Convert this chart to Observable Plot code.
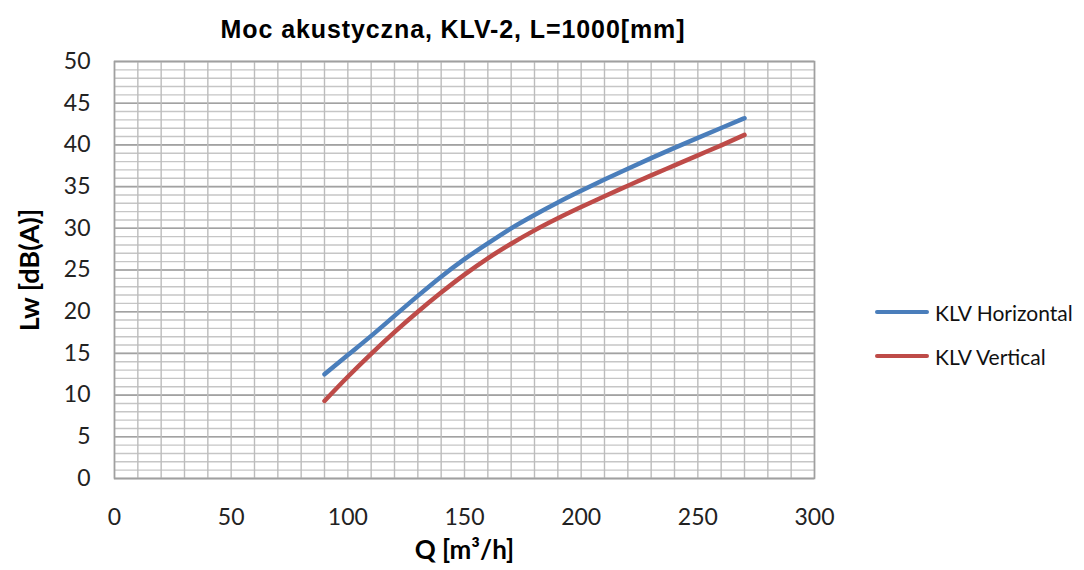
<!DOCTYPE html>
<html>
<head>
<meta charset="utf-8">
<script src="https://cdn.jsdelivr.net/npm/d3@7"></script>
<script src="https://cdn.jsdelivr.net/npm/@observablehq/plot@0.6"></script>
<style>
  html, body { margin: 0; padding: 0; background: #fff; }
  #wrap { position: relative; width: 1084px; height: 570px; overflow: hidden; }
  #title { position: absolute; left: 0; top: 12px; width: 906px; height: 34px; line-height: 34px; text-align: center;
           font-family: "Liberation Sans", Arial, sans-serif; font-weight: bold; font-size: 25px; letter-spacing: 0.9px; color: #000; z-index: 2; }
  #legend { position: absolute; left: 875px; top: 290px; font-family: Lato, sans-serif; font-size: 21px; color: #111; }
  .item { display: flex; align-items: center; height: 44px; }
  .swatch { width: 54px; height: 4px; border-radius: 2px; margin-right: 6px; }
</style>
</head>
<body>
<div id="wrap">
  <div id="chart"></div>
  <div id="title">Moc akustyczna, KLV-2, L=1000[mm]</div>
  <div id="legend"></div>
</div>
<script>
const seriesNames = ["KLV Horizontal", "KLV Vertical"];
const seriesColors = ["#4A7EBB", "#BE4B48"];
const flowQ = [90, 100, 110, 120, 130, 140, 150, 160, 170, 180, 190, 200, 210, 220, 230, 240, 250, 260, 270];
const horizontalLw = [12.5, 14.8, 17.1, 19.5, 21.9, 24.2, 26.3, 28.2, 30.0, 31.6, 33.1, 34.5, 35.85, 37.15, 38.42, 39.65, 40.85, 42.03, 43.2];
const verticalLw = [9.3, 12.2, 14.95, 17.55, 20.0, 22.3, 24.45, 26.4, 28.15, 29.75, 31.2, 32.55, 33.85, 35.1, 36.35, 37.55, 38.75, 39.95, 41.2];
const xTicks = [0, 50, 100, 150, 200, 250, 300];
const yTicks = [0, 5, 10, 15, 20, 25, 30, 35, 40, 45, 50];
const xGrid = d3.range(0, 301, 10);
const yMinorGrid = d3.range(0, 51, 1);
const yMajorGrid = d3.range(0, 51, 5);

const data = [];
flowQ.forEach((q, i) => {
  data.push({q, lw: horizontalLw[i], series: seriesNames[0]});
  data.push({q, lw: verticalLw[i], series: seriesNames[1]});
});

const chart = Plot.plot({
  width: 1084,
  height: 570,
  marginLeft: 114,
  marginRight: 270,
  marginTop: 61,
  marginBottom: 92,
  style: {fontFamily: "Lato, sans-serif", fontSize: "23px", color: "#222", background: "#fff"},
  x: {domain: [0, 300], ticks: xTicks, tickSize: 0, tickPadding: 30, label: null},
  y: {domain: [0, 50], ticks: yTicks, tickSize: 0, tickPadding: 24, label: null},
  color: {domain: seriesNames, range: seriesColors},
  marks: [
    Plot.ruleY(yMinorGrid, {stroke: "#c6c6c6", strokeWidth: 1.4}),
    Plot.ruleY(yMajorGrid, {stroke: "#a2a2a2", strokeWidth: 1.6}),
    Plot.ruleX(xGrid, {stroke: "#bcbcbc", strokeWidth: 1.4}),
    Plot.frame({stroke: "#a0a0a0", strokeWidth: 1.6}),
    Plot.axisX({ticks: xTicks, tickSize: 0, tickPadding: 30, fontSize: 23,
      label: "Q [m³/h]", labelAnchor: "center", labelArrow: "none", labelOffset: 80}),
    Plot.axisY({ticks: yTicks, tickSize: 0, tickPadding: 24, fontSize: 23,
      label: "Lw [dB(A)]", labelAnchor: "center", labelArrow: "none", labelOffset: 95}),
    Plot.line(data, {x: "q", y: "lw", stroke: "series", z: "series", strokeWidth: 4.5, curve: "monotone-x", strokeLinecap: "round"})
  ]
});
// bold axis labels
chart.querySelectorAll("g[aria-label='x-axis label'] text").forEach(t => {
  t.setAttribute("font-weight", "bold");
  t.setAttribute("font-size", "26");
  t.setAttribute("fill", "#000");
});
chart.querySelectorAll("g[aria-label='y-axis label'] text").forEach(t => {
  t.setAttribute("font-weight", "bold");
  t.setAttribute("font-size", "27");
  t.setAttribute("fill", "#000");
});
document.getElementById("chart").appendChild(chart);

const legend = document.getElementById("legend");
seriesNames.forEach((name, i) => {
  const item = document.createElement("div");
  item.className = "item";
  const sw = document.createElement("div");
  sw.className = "swatch";
  sw.style.background = seriesColors[i];
  const label = document.createElement("span");
  label.textContent = name;
  item.appendChild(sw);
  item.appendChild(label);
  legend.appendChild(item);
});
</script>
</body>
</html>
